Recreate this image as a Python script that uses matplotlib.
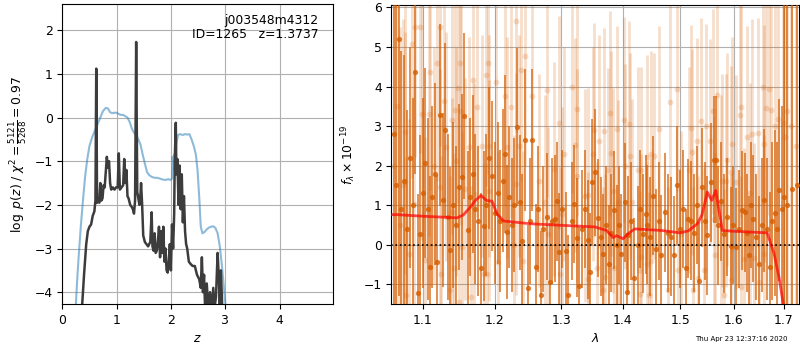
import matplotlib
matplotlib.use("Agg")
import matplotlib.pyplot as plt
from matplotlib.ticker import FixedLocator, FixedFormatter, NullLocator

# ---------------- left panel: p(z) ----------------
z_pz = [0.36, 0.40, 0.44, 0.47, 0.50, 0.53, 0.56, 0.59, 0.61, 0.625, 0.64, 0.66, 0.68, 0.70,
        0.72, 0.74, 0.76, 0.78, 0.80, 0.82, 0.84, 0.86, 0.88, 0.90, 0.93, 0.96, 0.99, 1.02,
        1.04, 1.06, 1.09, 1.12, 1.14, 1.16, 1.18, 1.20, 1.22, 1.25, 1.28, 1.30, 1.32, 1.34,
        1.36, 1.38, 1.40, 1.42, 1.44, 1.45, 1.47, 1.49, 1.52, 1.55, 1.58, 1.60, 1.62, 1.645,
        1.66, 1.68, 1.70, 1.72, 1.74, 1.76, 1.78, 1.80, 1.82, 1.84, 1.86, 1.88, 1.90, 1.92,
        1.94, 1.96, 1.98, 2.00, 2.02, 2.04, 2.06, 2.07, 2.09, 2.10, 2.12, 2.14, 2.16, 2.18,
        2.20, 2.22, 2.24, 2.26, 2.28, 2.30, 2.33, 2.36, 2.40, 2.44, 2.48, 2.52, 2.55, 2.57,
        2.59, 2.61, 2.63, 2.66, 2.69, 2.72, 2.75, 2.78, 2.80, 2.83, 2.86, 2.88, 2.90, 2.92, 2.95]
logpz = [-4.4, -3.6, -2.9, -2.6, -2.5, -2.45, -2.25, -2.15, -1.9, 1.12, -1.95, -1.85, -1.95, -1.5,
         -1.9, -1.85, -1.55, -1.6, -1.25, -0.9, -1.15, -1.0, -1.5, -1.65, -1.6, -1.65, -1.6, -1.6,
         -0.82, -1.65, -1.6, -1.55, -0.95, -1.5, -1.2, -1.8, -1.85, -2.0, -2.05, -2.1, -2.2, -1.9,
         1.73, -1.7, -1.85, -2.0, -1.75, -1.5, -2.0, -2.7, -2.85, -2.9, -2.95, -2.9, -2.85, -2.17,
         -2.95, -3.05, -2.65, -3.1, -3.05, -2.85, -2.5, -3.2, -2.6, -3.1, -2.5, -3.3, -3.0, -3.5,
         -3.55, -3.3, -2.9, -3.5, -2.45, -3.0, -2.2, -1.0, -0.12, -1.3, -0.95, -2.0, -1.1, -2.1,
         -1.3, -2.4, -1.8, -2.6, -2.9, -3.0, -3.3, -3.35, -3.4, -3.4, -3.6, -3.7, -3.9, -3.2,
         -4.0, -3.6, -4.4, -3.8, -4.4, -4.0, -4.4, -3.9, -4.4, -4.1, -3.1, -3.6, -4.3, -3.5, -4.5]

z_prior = [0.24, 0.27, 0.30, 0.34, 0.38, 0.42, 0.46, 0.50, 0.55, 0.60, 0.65, 0.70, 0.75, 0.80,
           0.84, 0.88, 0.92, 0.96, 1.00, 1.04, 1.08, 1.12, 1.16, 1.20, 1.24, 1.28, 1.32, 1.36,
           1.40, 1.44, 1.48, 1.52, 1.56, 1.60, 1.65, 1.70, 1.75, 1.80, 1.85, 1.90, 1.95, 1.99,
           2.02, 2.03, 2.05, 2.06, 2.08, 2.10, 2.13, 2.17, 2.22, 2.26, 2.30, 2.34, 2.38, 2.42,
           2.46, 2.49, 2.52, 2.55, 2.58, 2.62, 2.66, 2.70, 2.74, 2.78, 2.82, 2.86, 2.90, 2.94,
           2.98, 3.02]
log_prior = [-4.5, -3.8, -3.2, -2.5, -1.9, -1.35, -0.95, -0.65, -0.45, -0.3, -0.15, 0.0, 0.15, 0.22,
             0.21, 0.12, 0.1, 0.11, 0.11, 0.08, 0.06, 0.06, 0.03, 0.0, -0.1, -0.25, -0.35, -0.4,
             -0.5, -0.62, -0.85, -1.05, -1.25, -1.32, -1.36, -1.38, -1.38, -1.4, -1.42, -1.43, -1.41, -1.43,
             -1.4, -0.9, -1.2, -0.85, -1.05, -0.6, -0.4, -0.38, -0.4, -0.38, -0.39, -0.38, -0.5, -0.65,
             -0.85, -1.2, -1.8, -2.5, -2.65, -2.62, -2.56, -2.52, -2.5, -2.49, -2.53, -2.65, -2.95, -3.4,
             -3.95, -4.5]

z_ticks = [0, 1, 2, 3, 4]
logp_ticks = [-4, -3, -2, -1, 0, 1, 2]

# ---------------- right panel: spectrum ----------------
wave_a = [1.0620, 1.0655, 1.0687, 1.0722, 1.0758, 1.0792, 1.0828, 1.0866, 1.0904, 1.0934,
          1.0969, 1.1001, 1.1035, 1.1064, 1.1093, 1.1127, 1.1160, 1.1193, 1.1227, 1.1268,
          1.1304, 1.1338, 1.1373, 1.1410, 1.1448, 1.1487, 1.1534, 1.1566, 1.1612, 1.1648,
          1.1682, 1.1717, 1.1753, 1.1801, 1.1838, 1.1878, 1.1918, 1.1958, 1.1998, 1.2039,
          1.2078, 1.2117, 1.2151, 1.2176, 1.2210, 1.2248, 1.2285, 1.2323, 1.2362, 1.2400,
          1.2437, 1.2482, 1.2520, 1.2552, 1.2603, 1.2640, 1.2679, 1.2722, 1.2770, 1.2823,
          1.2858, 1.2900, 1.2935, 1.2967, 1.3015, 1.3066, 1.3109, 1.3160, 1.3203, 1.3240,
          1.3283, 1.3330, 1.3380, 1.3428, 1.3460, 1.3493, 1.3537, 1.3591, 1.3632, 1.3673,
          1.3718, 1.3762, 1.3808, 1.3855, 1.3900, 1.3940, 1.3977, 1.4034, 1.4062, 1.4090,
          1.4140, 1.4192, 1.4260, 1.4300, 1.4346, 1.4394, 1.4421, 1.4470, 1.4521, 1.4578,
          1.4620, 1.4666, 1.4737, 1.4785, 1.4832, 1.4891, 1.4951, 1.5000, 1.5050, 1.5103,
          1.5145, 1.5205, 1.5260, 1.5300, 1.5347, 1.5408, 1.5455, 1.5501, 1.5565, 1.5627,
          1.5669, 1.5707, 1.5760, 1.5815, 1.5870, 1.5944, 1.5990, 1.6040, 1.6100, 1.6168,
          1.6221, 1.6260, 1.6299, 1.6340, 1.6384, 1.6440, 1.6496, 1.6550, 1.6596, 1.6650,
          1.6710, 1.6760, 1.6810, 1.6850, 1.6898, 1.6950, 1.7000, 1.7070, 1.7171, 1.7275]
flux_a = [2.8, 1.5, 5.2, 0.9, 1.6, 0.4, 2.2, 1.0, 4.38, -1.21,
          0.28, 1.3, 2.06, 0.9, -0.57, 1.2, 1.79, -0.44, 3.28, 1.12,
          2.9, 0.7, -0.14, 1.0, 0.5, 1.45, 1.72, 3.26, 0.36, 1.2,
          1.79, 0.9, 0.6, -0.6, 0.48, 1.0, 2.2, 1.73, 0.8, 1.3,
          0.6, 1.62, 2.3, 0.32, 1.2, 0.5, 1.0, 2.97, 1.07, 0.1,
          2.65, -1.09, 0.6, 2.65, -0.57, 0.9, -1.26, 0.4, 0.71, -0.94,
          0.6, 0.66, 1.1, -0.19, 0.9, -0.17, -1.26, 0.6, 1.03, 0.18,
          -1.04, 0.4, 0.9, 0.13, -0.7, 1.58, 1.83, 0.68, 0.2, -0.23,
          0.5, -0.5, 0.3, 0.88, 0.0, 0.5, -0.23, 1.07, -1.2, 0.24,
          0.6, -0.83, -0.02, 0.9, 0.28, 0.77, 0.51, 0.2, 1.24, -0.1,
          0.6, -0.25, 0.82, 0.3, 0.2, -0.27, 1.5, 0.4, 0.9, -0.6,
          0.66, 0.61, 0.3, 1.0, -0.93, 1.45, 0.6, 0.24, 1.58, 2.15,
          2.15, 0.49, 1.1, 0.28, 0.7, -0.04, 0.5, -0.06, 0.4, 0.87,
          0.82, 0.3, -0.27, 1.0, 0.66, 0.2, -0.48, 0.5, 1.12, 0.4,
          -0.57, 0.6, 0.8, 0.4, 1.39, 0.9, 1.2, 1.0, 1.41, 1.5]
err_a = [8.0, 7.0, 6.5, 4.0, 3.2, 3.0, 2.8, 2.7, 2.6, 2.5,
         2.5, 2.4, 2.4, 2.3, 2.3, 2.3, 2.3, 2.2, 2.3, 2.2,
         2.2, 2.1, 2.1, 2.1, 2.0, 2.1, 2.1, 2.1, 2.0, 2.0,
         2.0, 1.9, 1.9, 1.9, 1.9, 1.8, 1.8, 1.9, 1.8, 1.8,
         1.8, 1.8, 2.0, 1.7, 1.8, 1.7, 1.7, 2.0, 1.7, 1.7,
         1.8, 1.6, 1.6, 1.8, 1.6, 1.6, 1.6, 1.6, 1.6, 1.5,
         1.6, 1.6, 1.5, 1.5, 1.5, 1.5, 1.5, 1.5, 1.5, 1.5,
         1.5, 1.5, 1.5, 1.5, 1.5, 1.6, 1.6, 1.5, 1.5, 1.5,
         1.5, 1.5, 1.5, 1.5, 1.5, 1.5, 1.5, 1.5, 1.5, 1.5,
         1.5, 1.5, 1.5, 1.5, 1.5, 1.5, 1.5, 1.5, 1.5, 1.5,
         1.5, 1.5, 1.5, 1.5, 1.5, 1.5, 1.5, 1.5, 1.5, 1.5,
         1.5, 1.5, 1.5, 1.5, 1.5, 1.5, 1.5, 1.5, 1.5, 1.6,
         1.6, 1.5, 1.5, 1.5, 1.5, 1.5, 1.5, 1.5, 1.5, 1.5,
         1.5, 1.5, 1.5, 1.6, 1.6, 1.6, 1.7, 1.7, 1.8, 1.8,
         1.9, 2.0, 2.1, 2.2, 2.3, 2.6, 7.0, 8.0, 9.0, 9.0]

wave_b = [1.0630, 1.0660, 1.0700, 1.0740, 1.0765, 1.0774, 1.0785, 1.0825, 1.0860, 1.0882,
          1.0904, 1.0969, 1.0990, 1.1036, 1.1080, 1.1093, 1.1150, 1.1193, 1.1227, 1.1235,
          1.1248, 1.1280, 1.1318, 1.1373, 1.1392, 1.1400, 1.1427, 1.1436, 1.1445, 1.1479,
          1.1487, 1.1507, 1.1520, 1.1535, 1.1580, 1.1625, 1.1656, 1.1688, 1.1697, 1.1746,
          1.1810, 1.1850, 1.1875, 1.1888, 1.1902, 1.1910, 1.1920, 1.2015, 1.2042, 1.2151,
          1.2176, 1.2233, 1.2286, 1.2304, 1.2310, 1.2347, 1.2388, 1.2420, 1.2437, 1.2552,
          1.2660, 1.2745, 1.2770, 1.2797, 1.2885, 1.2962, 1.2980, 1.3013, 1.3040, 1.3160,
          1.3214, 1.3240, 1.3245, 1.3372, 1.3422, 1.3428, 1.3500, 1.3525, 1.3568, 1.3607,
          1.3673, 1.3685, 1.3700, 1.3749, 1.3790, 1.3808, 1.3838, 1.3845, 1.3906, 1.3925,
          1.4025, 1.4034, 1.4108, 1.4129, 1.4147, 1.4260, 1.4290, 1.4307, 1.4317, 1.4405,
          1.4421, 1.4445, 1.4476, 1.4490, 1.4533, 1.4625, 1.4779, 1.4820, 1.4951, 1.4960,
          1.5011, 1.5162, 1.5195, 1.5223, 1.5230, 1.5315, 1.5320, 1.5378, 1.5438, 1.5468,
          1.5547, 1.5614, 1.5627, 1.5635, 1.5689, 1.5753, 1.5783, 1.5815, 1.5850, 1.5880,
          1.5944, 1.5950, 1.5976, 1.6040, 1.6124, 1.6137, 1.6150, 1.6203, 1.6254, 1.6316,
          1.6365, 1.6399, 1.6486, 1.6496, 1.6583, 1.6596, 1.6600, 1.6634, 1.6687, 1.6734,
          1.6816, 1.6870, 1.6986, 1.7022, 1.7054, 1.7150, 1.7250]
flux_b = [2.0, 3.5, 0.5, 1.5, 1.58, 2.86, -1.28, -0.23, 5.08, 1.02,
          5.51, 5.51, 3.31, -0.38, 3.31, 4.38, 2.0, 4.6, 5.5, 1.45,
          -0.75, 3.64, 2.48, -1.15, 0.82, 3.16, -0.59, 3.41, 2.11, 3.96,
          -1.45, 4.6, 3.39, -0.06, 1.41, 2.46, -1.32, 4.17, 1.29, 3.49,
          2.5, -0.75, 4.28, -0.73, 4.6, 1.37, 2.5, 4.12, -0.44, 3.77,
          2.46, 3.47, -0.02, 5.66, 1.54, 2.5, 4.42, -0.42, 4.78, 3.77,
          1.62, 1.08, 3.9, 0.28, 1.92, 3.09, -0.73, 0.78, 2.3, 4.0,
          2.52, 3.42, 1.75, 1.24, 1.26, -0.86, 2.3, 2.9, -0.6, 2.61,
          -1.15, 2.88, -0.82, 1.88, 3.32, 2.31, 1.37, -0.6, 2.93, 1.07,
          3.16, 1.98, 3.05, 2.25, 1.08, 1.89, -1.24, -0.31, 1.89, 2.21,
          -0.48, -1.26, 2.3, -0.4, 2.25, 2.93, -1.15, 3.62, 3.95, -0.65,
          0.28, 1.89, 2.95, 2.34, -1.15, 2.62, -0.85, 3.14, -0.65, 2.99,
          2.61, 3.37, 0.66, -0.27, 3.79, 1.08, 1.62, -1.28, 1.62, 2.15,
          1.83, -0.9, 2.55, 1.58, 3.29, -1.07, 3.49, -0.35, 2.73, 1.3,
          2.8, -0.33, 2.83, -0.94, 4.0, 2.55, -0.23, 3.46, 3.94, 3.41,
          3.01, 3.18, 3.07, 2.72, 3.37, 3.0, 2.5]
err_b = [7.0, 6.0, 5.0, 4.2, 3.8, 3.6, 3.5, 3.4, 3.4, 3.3,
         3.3, 3.2, 3.2, 3.1, 3.1, 3.0, 3.0, 3.0, 3.0, 3.0,
         3.0, 3.0, 2.9, 2.9, 2.9, 2.9, 2.9, 2.9, 2.9, 2.9,
         2.9, 2.9, 2.9, 2.9, 2.8, 2.8, 2.8, 2.8, 2.8, 2.8,
         2.8, 2.8, 2.8, 2.8, 2.8, 2.8, 2.8, 2.8, 2.8, 2.8,
         2.8, 2.8, 2.8, 2.8, 2.8, 2.8, 2.8, 2.8, 2.8, 2.8,
         2.7, 2.7, 2.7, 2.7, 2.7, 2.7, 2.7, 2.7, 2.7, 2.7,
         2.7, 2.7, 2.7, 2.7, 2.7, 2.7, 2.7, 2.7, 2.7, 2.7,
         2.6, 2.6, 2.6, 2.6, 2.6, 2.6, 2.6, 2.6, 2.6, 2.6,
         2.6, 2.6, 2.6, 2.6, 2.6, 2.6, 2.6, 2.6, 2.6, 2.6,
         2.6, 2.6, 2.6, 2.6, 2.6, 2.6, 2.6, 2.6, 2.6, 2.6,
         2.6, 2.6, 2.6, 2.6, 2.6, 2.6, 2.6, 2.6, 2.6, 2.6,
         2.6, 2.6, 2.6, 2.6, 2.6, 2.7, 2.7, 2.7, 2.7, 2.7,
         2.7, 2.7, 2.7, 2.7, 2.8, 2.8, 2.8, 2.8, 2.8, 2.8,
         2.9, 2.9, 2.9, 2.9, 3.0, 3.0, 3.0, 3.1, 3.2, 3.3,
         3.4, 3.6, 4.0, 4.5, 5.0, 6.0, 7.0]

wave_model = [1.060, 1.0666, 1.100, 1.1465, 1.155, 1.165, 1.172, 1.1801, 1.1877, 1.1958,
              1.203, 1.2126, 1.2522, 1.300, 1.3537, 1.3727, 1.3838, 1.3893, 1.4005, 1.409,
              1.4204, 1.4666, 1.500, 1.515, 1.5315, 1.540, 1.550, 1.5583, 1.5658, 1.5783,
              1.600, 1.666, 1.6797, 1.6898, 1.6986, 1.703]
flux_model = [0.76, 0.76, 0.72, 0.68, 0.75, 0.95, 1.12, 1.245, 1.12, 1.10,
              0.78, 0.60, 0.53, 0.49, 0.45, 0.36, 0.18, 0.23, 0.15, 0.28,
              0.40, 0.36, 0.30, 0.35, 0.53, 0.75, 1.33, 1.12, 1.37, 0.36,
              0.34, 0.30, -0.22, -0.82, -1.5, -2.0]

wave_ticks = [1.1, 1.2, 1.3, 1.4, 1.5, 1.6, 1.7]
wave_labels = ['1.1', '1.2', '1.3', '1.4', '1.5', '1.6', '1.7']
flux_ticks = [-1, 0, 1, 2, 3, 4, 5, 6]

# ---------------- figure ----------------
FS = 8.9
plt.rcParams['font.size'] = FS
plt.rcParams['xtick.labelsize'] = FS
plt.rcParams['ytick.labelsize'] = FS
plt.rcParams['axes.labelsize'] = FS

fig = plt.figure(figsize=(8, 3.5), dpi=100)
ax1 = fig.add_axes([0.0779, 0.1314, 0.3387, 0.8572])
ax2 = fig.add_axes([0.4893, 0.1314, 0.5094, 0.8552])

ax1.plot(z_prior, log_prior, color='#1f77b4', alpha=0.5, lw=1.5)
ax1.plot(z_pz, logpz, color='#3c3c3c', lw=1.8)
ax1.set_xlim(0, 4.99)
ax1.set_ylim(-4.27, 2.6)
ax1.set_xticks(z_ticks)
ax1.set_yticks(logp_ticks)
ax1.grid(True, color='#b0b0b0', lw=0.8)
ax1.set_xlabel('$z$')
ax1.set_ylabel(r'$\log\ p(z)$ / $\chi^2=\frac{5121}{5268}=0.97$')
ax1.text(0.944, 0.965, 'j003548m4312\nID=1265   z=1.3737', transform=ax1.transAxes,
         ha='right', va='top', fontsize=FS, linespacing=1.1)

col = (0.8352941176, 0.3686274509803922, 0.0)
ax2.errorbar(wave_b, flux_b, yerr=err_b, fmt='o', color=col, alpha=0.2, ms=4.2,
             elinewidth=2.0, capsize=0, markeredgewidth=0, zorder=2)
ax2.errorbar(wave_a, flux_a, yerr=err_a, fmt='o', color=col, alpha=0.8, ms=3.8,
             elinewidth=1.2, capsize=0, markeredgewidth=0, zorder=3)
ax2.axhline(0, color='k', ls=':', lw=1.2, zorder=4)
ax2.plot(wave_model, flux_model, color='r', alpha=0.7, lw=2.0, zorder=5)
ax2.set_xscale('log')
ax2.set_xlim(1.0593, 1.7310)
ax2.set_ylim(-1.5, 6.07)
ax2.xaxis.set_major_locator(FixedLocator(wave_ticks))
ax2.xaxis.set_major_formatter(FixedFormatter(wave_labels))
ax2.xaxis.set_minor_locator(NullLocator())
ax2.set_yticks(flux_ticks)
ax2.grid(True, color='#b0b0b0', lw=0.8)
ax2.set_xlabel(r'$\lambda$')
ax2.set_ylabel(r'$f_\lambda\times10^{-19}$')

fig.text(0.984, 0.032, 'Thu Apr 23 12:37:16 2020', ha='right', va='center', fontsize=5)

fig.savefig('out.png', dpi=100)
